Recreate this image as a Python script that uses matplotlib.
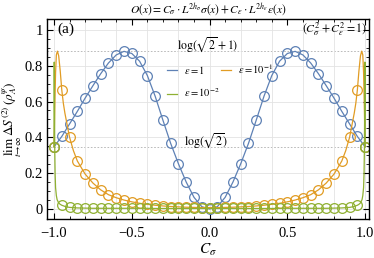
import numpy as np
import matplotlib
matplotlib.use("Agg")
import matplotlib.pyplot as plt

plt.rcParams['font.family'] = ['Liberation Serif', 'DejaVu Serif']
plt.rcParams['mathtext.fontset'] = 'stix'

# sample points of the circles
c_sigma = [-1.00, -0.95, -0.90, -0.85, -0.80, -0.75, -0.70, -0.65, -0.60, -0.55,
           -0.50, -0.45, -0.40, -0.35, -0.30, -0.25, -0.20, -0.15, -0.10, -0.05,
           0.00, 0.05, 0.10, 0.15, 0.20, 0.25, 0.30, 0.35, 0.40, 0.45,
           0.50, 0.55, 0.60, 0.65, 0.70, 0.75, 0.80, 0.85, 0.90, 0.95, 1.00]

s_eps1 = [0.347, 0.405, 0.475, 0.545, 0.619, 0.688, 0.755, 0.815, 0.860, 0.880,
          0.868, 0.825, 0.745, 0.630, 0.496, 0.366, 0.252, 0.150, 0.065, 0.013,
          0.000, 0.013, 0.065, 0.150, 0.252, 0.366, 0.496, 0.630, 0.745, 0.825,
          0.868, 0.880, 0.860, 0.815, 0.755, 0.688, 0.619, 0.545, 0.475, 0.405, 0.347]

s_eps01 = [0.347, 0.664, 0.400, 0.268, 0.195, 0.145, 0.107, 0.080, 0.063, 0.050,
           0.040, 0.032, 0.026, 0.021, 0.017, 0.014, 0.012, 0.010, 0.009, 0.008,
           0.008, 0.008, 0.009, 0.010, 0.012, 0.014, 0.017, 0.021, 0.026, 0.032,
           0.040, 0.050, 0.063, 0.080, 0.107, 0.145, 0.195, 0.268, 0.400, 0.664, 0.347]

s_eps001 = [0.347, 0.021, 0.009, 0.006, 0.005, 0.004, 0.004, 0.004, 0.004, 0.004,
            0.004, 0.004, 0.004, 0.003, 0.003, 0.003, 0.003, 0.003, 0.003, 0.003,
            0.003, 0.003, 0.003, 0.003, 0.003, 0.003, 0.003, 0.003, 0.003, 0.004,
            0.004, 0.004, 0.004, 0.004, 0.004, 0.004, 0.005, 0.006, 0.009, 0.021, 0.347]

# extra points of the curves close to C_sigma = +-1
edge01_x = [-0.995, -0.99, -0.985, -0.978, -0.97, -0.96, -0.94, -0.93, -0.92, -0.91, -0.875,
            0.875, 0.91, 0.92, 0.93, 0.94, 0.96, 0.97, 0.978, 0.985, 0.99, 0.995]
edge01_y = [0.56, 0.76, 0.86, 0.881, 0.855, 0.77, 0.59, 0.535, 0.49, 0.445, 0.325,
            0.325, 0.445, 0.49, 0.535, 0.59, 0.77, 0.855, 0.881, 0.86, 0.76, 0.56]

edge001_x = [-0.9985, -0.997, -0.995, -0.993, -0.99, -0.985, -0.98, -0.97, -0.96, -0.925,
             0.925, 0.96, 0.97, 0.98, 0.985, 0.99, 0.993, 0.995, 0.997, 0.9985]
edge001_y = [0.82, 0.56, 0.32, 0.20, 0.12, 0.075, 0.052, 0.034, 0.026, 0.013,
             0.013, 0.026, 0.034, 0.052, 0.075, 0.12, 0.20, 0.32, 0.56, 0.82]

series = [
    (r'$\epsilon = 1$', s_eps1, [], [], '#5e81b5'),
    (r'$\epsilon = 10^{-1}$', s_eps01, edge01_x, edge01_y, '#e19c24'),
    (r'$\epsilon = 10^{-2}$', s_eps001, edge001_x, edge001_y, '#8fb032'),
]

fig = plt.figure(figsize=(3.74, 2.58), dpi=100)
ax = fig.add_axes([0.1257, 0.151, 0.861, 0.775])

handles = {}
for label, vals, ex, ey, color in series:
    lx = np.array(c_sigma + ex)
    ly = np.array(vals + ey)
    order = np.argsort(lx)
    h, = ax.plot(lx[order], ly[order], color=color, lw=0.9, label=label)
    ax.plot(c_sigma, vals, 'o', mfc='none', mec=color, ms=7, mew=0.9)
    handles[label] = h

ax.axhline(np.log(np.sqrt(2) + 1), color='#b0b0b0', ls=(0, (2, 2)), lw=0.6, zorder=0)
ax.axhline(np.log(np.sqrt(2)), color='#b0b0b0', ls=(0, (2, 2)), lw=0.6, zorder=0)

ax.set_xlim(-1.045, 1.025)
ax.set_ylim(-0.056, 1.06)
ax.set_xticks([-1.0, -0.5, 0.0, 0.5, 1.0])
ax.set_xticklabels(['\u22121.0', '\u22120.5', '0.0', '0.5', '1.0'])
ax.set_xticks(np.arange(-1.0, 1.01, 0.1), minor=True)
ax.set_yticks([0, 0.2, 0.4, 0.6, 0.8, 1.0])
ax.set_yticklabels(['0', '0.2', '0.4', '0.6', '0.8', '1'])
ax.set_yticks(np.arange(0, 1.01, 0.05), minor=True)
ax.tick_params(which='both', direction='in', top=True, right=True, labelsize=10.5)
ax.tick_params(axis='x', pad=6)
ax.tick_params(axis='y', pad=3)
ax.tick_params(which='major', length=4, width=0.8)
ax.tick_params(which='minor', length=2, width=0.6)
for sp in ax.spines.values():
    sp.set_linewidth(1.0)

for gx in np.arange(-1.0, 1.01, 0.2):
    ax.axvline(gx, color='#e3e3e3', lw=0.6, zorder=0)
for gy in np.arange(0, 1.01, 0.2):
    ax.axhline(gy, color='#e3e3e3', lw=0.6, zorder=0)

ax.set_xlabel(r'$C_\sigma$', fontsize=11, labelpad=1)
ax.set_ylabel(r'$\lim_{t\to\infty}\,\Delta S^{(2)}(\rho_A^{\psi})$', fontsize=9.5)
ax.yaxis.set_label_coords(-0.07, 0.5)
ax.set_title(r'$O(x) = C_\sigma \cdot L^{2h_\sigma}\sigma(x) + C_\varepsilon \cdot L^{2h_\varepsilon}\varepsilon(x)$',
             fontsize=8.3, pad=4)

ax.text(0.031, 0.95, '(a)', transform=ax.transAxes, fontsize=11, ha='left', va='center')
ax.text(0.994, 0.95, r'$(C_\sigma^2 + C_\varepsilon^2 = 1)$', transform=ax.transAxes,
        fontsize=8.5, ha='right', va='center')
ax.text(-0.01, 0.92, r'$\log(\sqrt{2} + 1)$', fontsize=8.5, ha='center', va='center')
ax.text(-0.02, 0.38, r'$\log(\sqrt{2})$', fontsize=8.5, ha='center', va='center')

order_labels = [r'$\epsilon = 1$', r'$\epsilon = 10^{-2}$', r'$\epsilon = 10^{-1}$']
ax.legend([handles[k] for k in order_labels], order_labels, ncol=2, frameon=False,
          loc='upper left', bbox_to_anchor=(0.345, 0.83), fontsize=7.5,
          handlelength=0.95, handletextpad=0.6, columnspacing=0.2, labelspacing=1.0)

fig.savefig('out.png', dpi=100)
